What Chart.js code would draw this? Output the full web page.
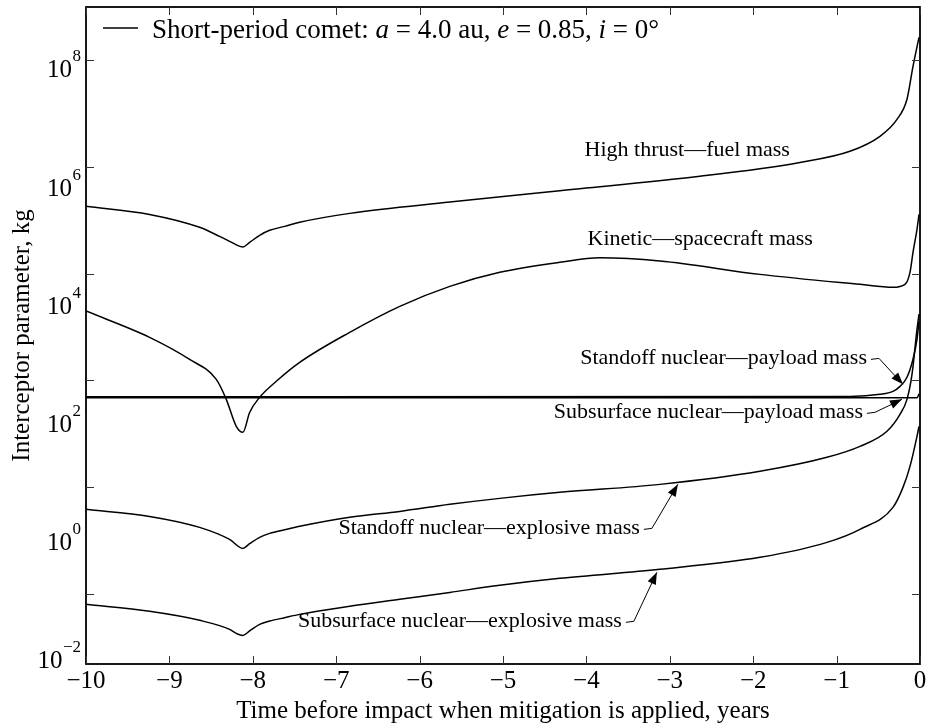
<!DOCTYPE html>
<html>
<head>
<meta charset="utf-8">
<script src="https://cdn.jsdelivr.net/npm/chart.js@4.4.1/dist/chart.umd.min.js"></script>
<style>
  html, body { margin: 0; padding: 0; background: #fff; }
</style>
</head>
<body>
<canvas id="chartMitigation" width="932" height="728"></canvas>
<script>
// time before impact (years) and interceptor parameter (kg) for each curve
const highThrustT = [-10, -9.238, -8.638, -8.398, -8.278, -8.198, -8.119, -8.038, -7.918, -7.798, -7.618, -7.438, -6.838, -5.638, -4.319, -2.639, -1.439, -0.840, -0.480, -0.276, -0.156, -0.084, -0.012];
const highThrustKg = [1.83e5, 1.29e5, 7.4e4, 5.0e4, 4.04e4, 3.47e4, 3.16e4, 3.86e4, 5.24e4, 6.5e4, 7.7e4, 9.2e4, 1.35e5, 2.2e5, 3.6e5, 6.7e5, 1.22e6, 1.97e6, 3.76e6, 7.8e6, 1.86e7, 7.7e7, 2.7e8];

const kineticT = [-10, -9.238, -8.758, -8.438, -8.318, -8.198, -8.119, -8.038, -7.918, -7.718, -7.438, -6.838, -6.238, -5.638, -5.039, -4.319, -3.839, -3.119, -1.919, -0.720, -0.324, -0.180, -0.120, -0.084, -0.036, -0.012];
const kineticKg = [1990, 640, 247, 104, 44, 13.7, 10.6, 25, 48, 96, 217, 794, 2440, 5780, 1.06e4, 1.63e4, 1.98e4, 1.73e4, 9700, 6300, 5540, 6300, 1.06e4, 2.5e4, 6.8e4, 1.29e5];

const standoffPayloadT = [-10, -0.840, -0.480, -0.324, -0.240, -0.156, -0.084, -0.036, -0.012];
const standoffPayloadKg = [49, 50, 54.6, 62, 77, 114, 248, 588, 1280];

const subsurfacePayloadT = [-10, -0.036, -0.012];
const subsurfacePayloadKg = [47, 47, 56];

const standoffExplosiveT = [-10, -9.238, -8.638, -8.278, -8.119, -8.038, -7.918, -7.798, -7.618, -7.438, -6.838, -6.238, -5.638, -5.039, -4.319, -3.119, -1.919, -1.116, -0.720, -0.396, -0.240, -0.156, -0.096, -0.036, -0.012];
const standoffExplosiveKg = [0.381, 0.281, 0.175, 0.104, 0.0706, 0.0865, 0.114, 0.135, 0.158, 0.183, 0.270, 0.349, 0.473, 0.612, 0.794, 1.12, 1.97, 3.60, 5.78, 11.1, 23.1, 44, 129, 904, 1740];

const subsurfaceExplosiveT = [-10, -9.238, -8.638, -8.278, -8.198, -8.119, -8.038, -7.918, -7.798, -7.618, -7.438, -6.838, -6.238, -5.638, -5.039, -4.319, -3.119, -1.919, -1.116, -0.720, -0.324, -0.204, -0.120, -0.036, -0.012];
const subsurfaceExplosiveKg = [0.0063, 0.00466, 0.00316, 0.00214, 0.0018, 0.00165, 0.0020, 0.00265, 0.00306, 0.00355, 0.00409, 0.00578, 0.00782, 0.01057, 0.01432, 0.01936, 0.0286, 0.0480, 0.0916, 0.161, 0.415, 0.984, 2.44, 8.91, 13.7];

// axis ticks
const xTicks = [-10, -9, -8, -7, -6, -5, -4, -3, -2, -1, 0];
const yTickExps = [-2, 0, 2, 4, 6, 8];

// curve labels, where they end, and where their arrows point
const curveNotes = ['High thrust\u2014fuel mass', 'Kinetic\u2014spacecraft mass', 'Standoff nuclear\u2014payload mass',
  'Subsurface nuclear\u2014payload mass', 'Standoff nuclear\u2014explosive mass', 'Subsurface nuclear\u2014explosive mass'];
const noteEndT = [-1.560, -1.284, -0.636, -0.684, -3.359, -3.575];
const noteEndKg = [2.05e6, 4.4e4, 258, 25.1, 0.1675, 0.00303];
const arrowTipT = [null, null, -0.204, -0.216, -2.903, -3.155];
const arrowTipKg = [null, null, 84, 44, 1.12, 0.0251];

// legend: [text, italic]
const legendParts = [['Short-period comet: ', false], ['a', true], [' = 4.0 au, ', false], ['e', true], [' = 0.85, ', false], ['i', true], [' = 0\u00b0', false]];

const SERIF = '"Liberation Serif", "Times New Roman", serif';

function curve(label, ts, kgs) {
  return {
    label: label,
    data: ts.map((t, i) => ({x: t, y: kgs[i]})),
    borderColor: '#000',
    borderWidth: 1.5,
    pointRadius: 0,
    fill: false,
    cubicInterpolationMode: 'monotone',
    xAxisID: 'x',
    yAxisID: 'y'
  };
}

function arrowHead(ctx, fx, fy, tx, ty) {
  const ang = Math.atan2(ty - fy, tx - fx);
  const len = 12, half = 4.5;
  ctx.beginPath();
  ctx.moveTo(tx, ty);
  ctx.lineTo(tx - len * Math.cos(ang) + half * Math.sin(ang), ty - len * Math.sin(ang) - half * Math.cos(ang));
  ctx.lineTo(tx - len * Math.cos(ang) - half * Math.sin(ang), ty - len * Math.sin(ang) + half * Math.cos(ang));
  ctx.closePath();
  ctx.fill();
}

const frameAndNotes = {
  id: 'frameAndNotes',
  afterDatasetsDraw(chart) {
    const ctx = chart.ctx;
    const a = chart.chartArea;
    const sx = chart.scales.x, sy = chart.scales.y, sl = chart.scales.yl;
    ctx.save();

    // box
    ctx.strokeStyle = '#000';
    ctx.lineWidth = 1.8;
    ctx.strokeRect(a.left, a.top, a.right - a.left, a.bottom - a.top);

    // inward tick marks
    ctx.lineWidth = 1;
    ctx.strokeStyle = '#333';
    ctx.beginPath();
    xTicks.forEach(v => {
      const px = Math.round(sx.getPixelForValue(v)) + 0.5;
      ctx.moveTo(px, a.bottom); ctx.lineTo(px, a.bottom - 8);
      ctx.moveTo(px, a.top); ctx.lineTo(px, a.top + 8);
    });
    yTickExps.forEach(e => {
      const py = Math.round(sy.getPixelForValue(Math.pow(10, e))) + 0.5;
      ctx.moveTo(a.left, py); ctx.lineTo(a.left + 8, py);
      ctx.moveTo(a.right, py); ctx.lineTo(a.right - 8, py);
    });
    ctx.stroke();

    // decade labels 10^n
    ctx.fillStyle = '#000';
    ctx.textAlign = 'right';
    ctx.textBaseline = 'alphabetic';
    yTickExps.forEach(e => {
      const yc = sl.getPixelForValue(Math.pow(10, e));
      const exp = e < 0 ? '\u2212' + Math.abs(e) : String(e);
      ctx.font = '17px ' + SERIF;
      const w = ctx.measureText(exp).width;
      const xr = a.left - 5;
      ctx.fillText(exp, xr, yc - 7.5);
      ctx.font = '25px ' + SERIF;
      ctx.fillText('10', xr - w - 0.5, yc + 8.5);
    });

    // legend
    const ly = a.top + 21;
    ctx.strokeStyle = '#000';
    ctx.lineWidth = 1.5;
    ctx.beginPath();
    ctx.moveTo(a.left + 17, ly); ctx.lineTo(a.left + 52, ly);
    ctx.stroke();
    ctx.textAlign = 'left';
    let lx = a.left + 66;
    legendParts.forEach(p => {
      ctx.font = (p[1] ? 'italic ' : '') + '27px ' + SERIF;
      ctx.fillText(p[0], lx, ly + 10);
      lx += ctx.measureText(p[0]).width;
    });

    // curve labels with arrows
    ctx.font = '22px ' + SERIF;
    ctx.textAlign = 'right';
    ctx.textBaseline = 'middle';
    ctx.lineWidth = 1;
    curveNotes.forEach((txt, i) => {
      const x = sx.getPixelForValue(noteEndT[i]);
      const y = sy.getPixelForValue(noteEndKg[i]);
      ctx.fillText(txt, x, y);
      if (arrowTipT[i] === null) return;
      const tx = sx.getPixelForValue(arrowTipT[i]);
      const ty = sy.getPixelForValue(arrowTipKg[i]);
      const kx = x + 12, ky = y;
      ctx.beginPath();
      ctx.moveTo(x + 4, y + 1);
      ctx.lineTo(kx, ky);
      ctx.lineTo(tx, ty);
      ctx.stroke();
      arrowHead(ctx, kx, ky, tx, ty);
    });
    ctx.restore();
  }
};

new Chart(document.getElementById('chartMitigation').getContext('2d'), {
  type: 'line',
  data: {
    datasets: [
      curve('High thrust', highThrustT, highThrustKg),
      curve('Kinetic', kineticT, kineticKg),
      curve('Standoff nuclear payload', standoffPayloadT, standoffPayloadKg),
      curve('Subsurface nuclear payload', subsurfacePayloadT, subsurfacePayloadKg),
      curve('Standoff nuclear explosive', standoffExplosiveT, standoffExplosiveKg),
      curve('Subsurface nuclear explosive', subsurfaceExplosiveT, subsurfaceExplosiveKg)
    ]
  },
  options: {
    responsive: false,
    animation: false,
    devicePixelRatio: 1,
    layout: { padding: { top: 7, right: 12, left: 0, bottom: 0 } },
    plugins: {
      legend: { display: false },
      tooltip: { enabled: false }
    },
    scales: {
      x: {
        type: 'linear',
        min: -10,
        max: 0,
        grid: { display: false, drawTicks: false },
        border: { display: false },
        afterBuildTicks: s => { s.ticks = xTicks.map(v => ({value: v})); },
        afterFit: s => { s.height = 64; },
        ticks: {
          padding: 2,
          color: '#000',
          font: { family: SERIF, size: 25, lineHeight: 1.2 },
          callback: v => (v < 0 ? '\u2212' + Math.abs(v) : String(v))
        },
        title: {
          display: true,
          text: 'Time before impact when mitigation is applied, years',
          color: '#000',
          padding: { top: 0, bottom: 2 },
          font: { family: SERIF, size: 25, lineHeight: 1.2 }
        }
      },
      y: {
        type: 'logarithmic',
        position: 'left',
        min: 4.8e-4,
        max: 1e9,
        grid: { display: false, drawTicks: false },
        border: { display: false },
        ticks: { display: false },
        afterFit: s => { s.width = 86; },
        title: {
          display: true,
          text: 'Interceptor parameter, kg',
          color: '#000',
          padding: { top: 7, bottom: 0 },
          font: { family: SERIF, size: 25, lineHeight: 1.2 }
        }
      },
      yl: {
        type: 'logarithmic',
        position: 'left',
        display: false,
        min: 0.00855,
        max: 1.119e9
      }
    }
  },
  plugins: [frameAndNotes]
});
</script>
</body>
</html>
